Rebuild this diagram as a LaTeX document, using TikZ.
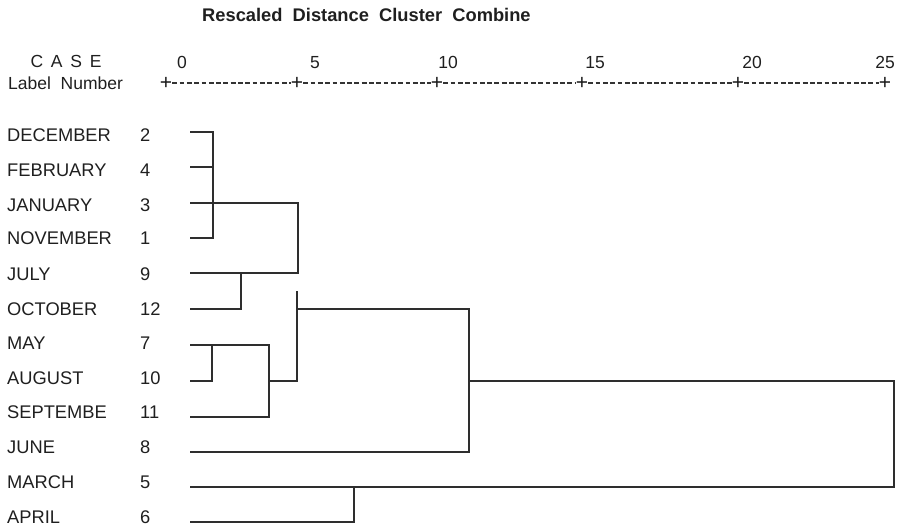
\documentclass[tikz,border=0pt]{standalone}
\usepackage{fontspec}
\setmainfont{Liberation Sans}
\begin{document}
\begin{tikzpicture}[x=1pt,y=-1pt,
  lab/.style={anchor=base west,inner sep=0pt,text=black!88,font=\fontsize{18.3}{20}\selectfont},
  numtxt/.style={anchor=base west,inner sep=0pt,text=black!88,font=\fontsize{18.3}{20}\selectfont},
  scl/.style={anchor=base,inner sep=0pt,text=black!88,font=\fontsize{17.5}{20}\selectfont},
  plus/.style={inner sep=0pt,text=black!90,font=\fontsize{21}{22}\selectfont},
  den/.style={draw=black!82,line width=1.5pt,line cap=rect}]
\useasboundingbox (0,0) rectangle (898,531);
% title
\node[anchor=base west,inner sep=0pt,text=black!88,font=\bfseries\fontsize{18.3}{20}\selectfont] (title) at (202,21.5) {Rescaled\ \ Distance\ \ Cluster\ \ Combine};
% header
\node[anchor=base,inner sep=0pt,text=black!88,font=\fontsize{17.5}{20}\selectfont] (case) at (66,67.5) {C\,\ A\,\ S\,\ E};
\node[anchor=base west,inner sep=0pt,text=black!88,font=\fontsize{17.5}{20}\selectfont] (labnum) at (8,89.5) {Label\ \ Number};
% scale
\node[scl] (s0) at (182,68) {0};
\node[scl] (s5) at (315,68) {5};
\node[scl] (s10) at (448,68) {10};
\node[scl] (s15) at (595,68) {15};
\node[scl] (s20) at (752,68) {20};
\node[scl] (s25) at (885,68) {25};
\node[plus] (p0) at (166,83) {+};
\node[plus] (p5) at (297,83) {+};
\node[plus] (p10) at (437,83) {+};
\node[plus] (p15) at (582,83) {+};
\node[plus] (p20) at (738,83) {+};
\node[plus] (p25) at (885,83) {+};
\foreach \a/\b in {p0/p5,p5/p10,p10/p15,p15/p20,p20/p25}
  \draw[black!80,line width=1.2pt,dash pattern=on 4.8pt off 2.5pt] (\a.east) -- (\b.west);
% row labels
\foreach \nm/\cn/\ty [count=\i] in {DECEMBER/2/135,FEBRUARY/4/170,JANUARY/3/205,NOVEMBER/1/238,JULY/9/274,OCTOBER/12/309,MAY/7/343,AUGUST/10/378,SEPTEMBE/11/412,JUNE/8/447,MARCH/5/482,APRIL/6/517}{
  \node[lab] (name\i) at (7,\ty+6.5) {\nm};
  \node[numtxt] (num\i) at (140,\ty+6.5) {\cn};
}
% leaf starts
\coordinate (dec) at (191,132);
\coordinate (feb) at (191,167);
\coordinate (jan) at (191,203);
\coordinate (nov) at (191,238);
\coordinate (jul) at (191,273);
\coordinate (oct) at (191,309);
\coordinate (may) at (191,345);
\coordinate (aug) at (191,381);
\coordinate (sep) at (191,417);
\coordinate (jun) at (191,452);
\coordinate (mar) at (191,487);
\coordinate (apr) at (191,522);
% junctions
\coordinate (a1) at (213,132);
\coordinate (a2) at (213,238);
\coordinate (b1) at (298,203);
\coordinate (b2) at (298,273);
\coordinate (c1) at (241,273);
\coordinate (c2) at (241,309);
\coordinate (d1) at (212,345);
\coordinate (d2) at (212,381);
\coordinate (e1) at (269,345);
\coordinate (e2) at (269,417);
\coordinate (e3) at (269,381);
\coordinate (f1) at (297,292);
\coordinate (f2) at (297,381);
\coordinate (f3) at (297,309);
\coordinate (g1) at (469,309);
\coordinate (g2) at (469,452);
\coordinate (g3) at (469,381);
\coordinate (h1) at (894,381);
\coordinate (h2) at (894,487);
\coordinate (k1) at (354,487);
\coordinate (k2) at (354,522);
% dendrogram
\draw[den] (dec) -- (a1) -- (a2) -- (nov);
\draw[den] (feb) -- (feb -| a1);
\draw[den] (jan) -- (b1) -- (b2) -- (jul);
\draw[den] (c1) -- (c2) -- (oct);
\draw[den] (may) -- (e1) -- (e2) -- (sep);
\draw[den] (d1) -- (d2) -- (aug);
\draw[den] (e3) -- (f2) -- (f1);
\draw[den] (f3) -- (g1) -- (g2) -- (jun);
\draw[den] (g3) -- (h1) -- (h2) -- (mar);
\draw[den] (k1) -- (k2) -- (apr);
\end{tikzpicture}
\end{document}
